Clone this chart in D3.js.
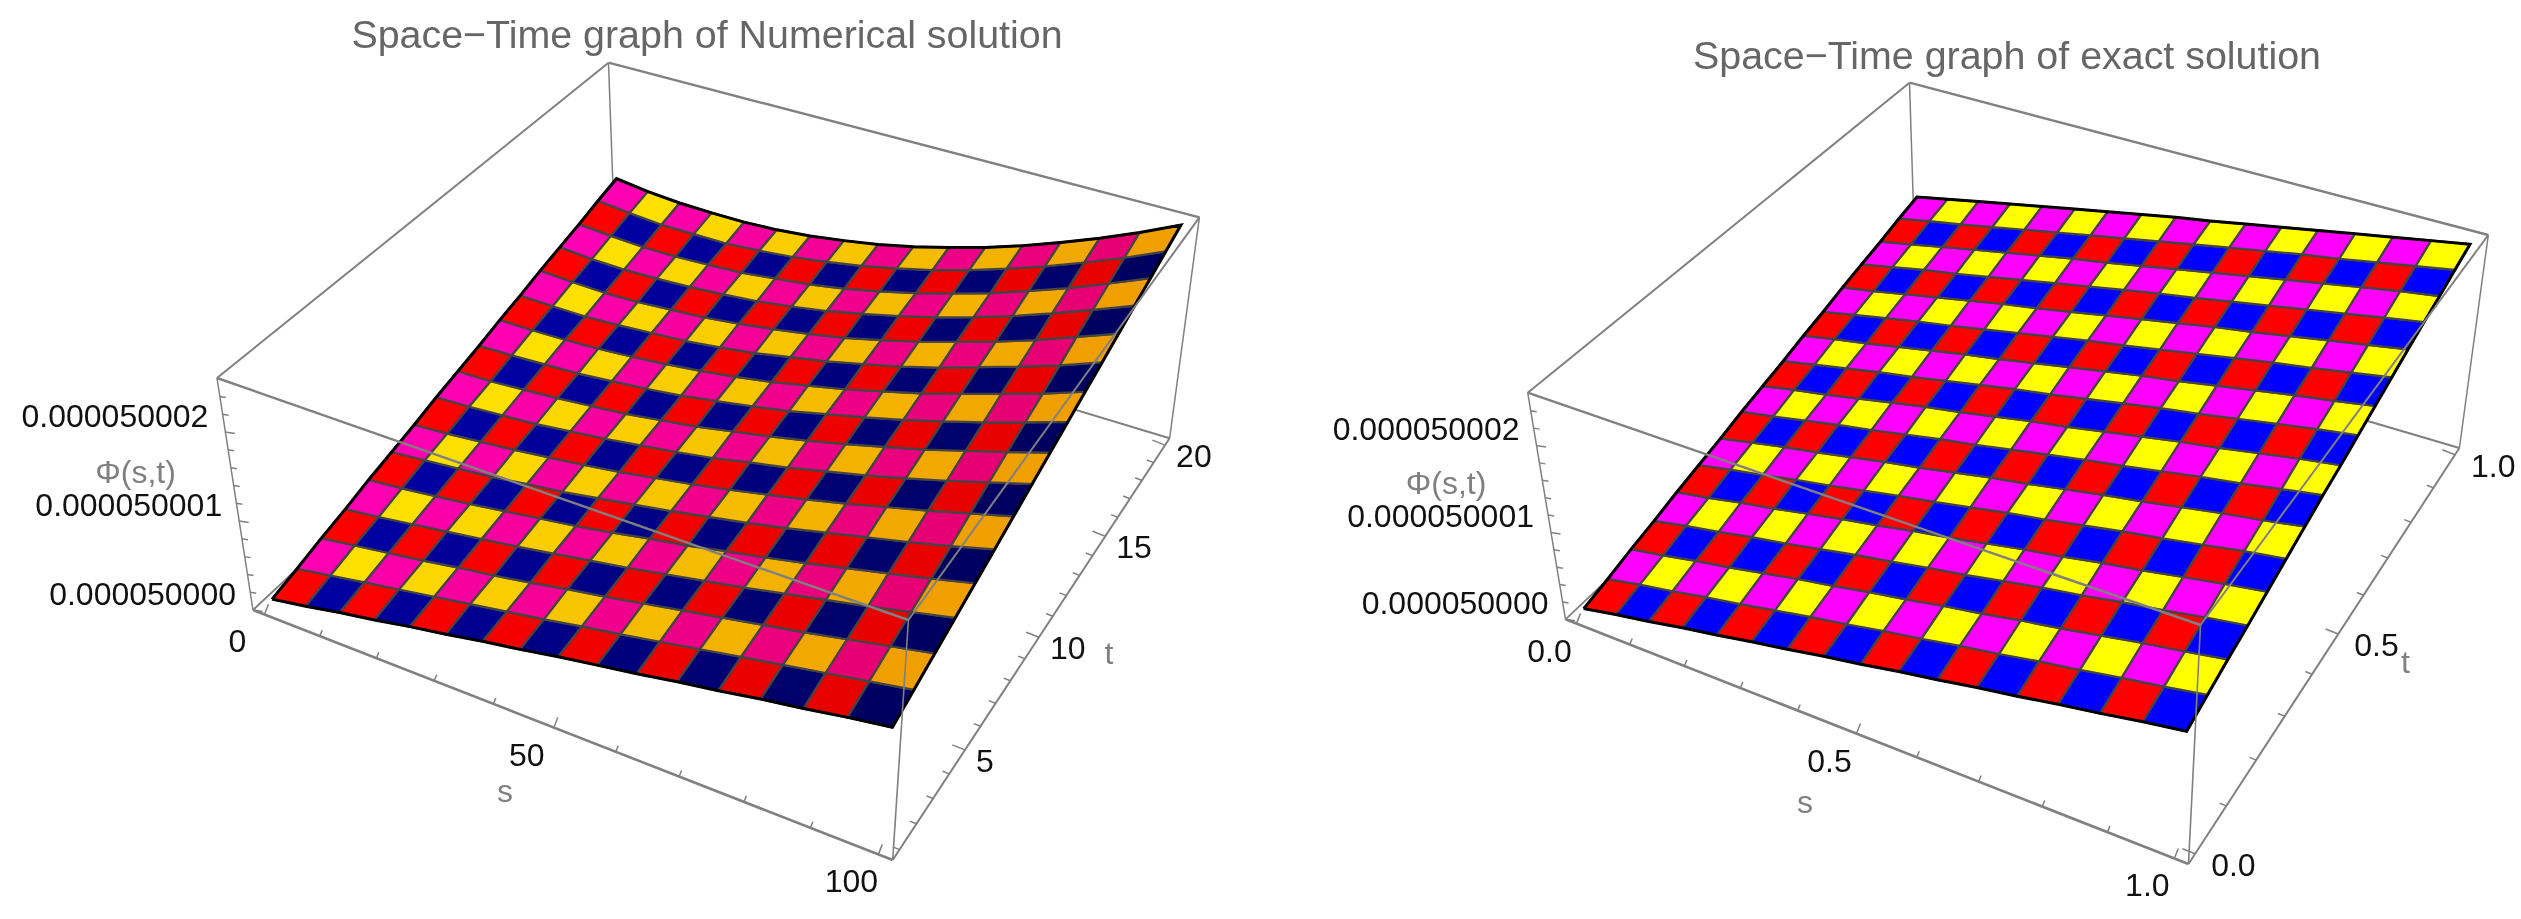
<!DOCTYPE html>
<html>
<head>
<meta charset="utf-8">
<script src="https://cdn.jsdelivr.net/npm/d3@7"></script>
<style>
  html, body { margin: 0; padding: 0; background: #fff; }
  svg { display: block; filter: blur(0.6px); }
  text { font-family: "Liberation Sans", Arial, sans-serif; }
</style>
</head>
<body>
<div id="chart"></div>
<script>
// surface heights, in units of 1e-9 above 0.00005. rows go along t, columns along s
var numericalPhi = [
  [.08,.15,.23,.30,.38,.45,.53,.60,.68,.75,.82,.90,.97,1.05,1.12,1.20,1.27],
  [.15,.22,.29,.36,.43,.50,.57,.64,.72,.79,.87,.95,1.03,1.11,1.19,1.27,1.35],
  [.23,.29,.35,.41,.48,.54,.61,.69,.76,.84,.92,1.00,1.08,1.16,1.25,1.34,1.43],
  [.30,.35,.41,.47,.53,.59,.66,.73,.80,.88,.96,1.04,1.13,1.22,1.31,1.41,1.51],
  [.38,.42,.47,.52,.58,.64,.70,.77,.85,.92,1.01,1.09,1.18,1.28,1.38,1.48,1.59],
  [.45,.49,.53,.57,.63,.68,.75,.82,.89,.97,1.05,1.14,1.24,1.34,1.44,1.55,1.67],
  [.52,.55,.59,.63,.68,.73,.79,.86,.93,1.01,1.10,1.19,1.29,1.40,1.51,1.63,1.75],
  [.60,.62,.65,.68,.73,.78,.84,.90,.97,1.06,1.14,1.24,1.34,1.45,1.57,1.70,1.83],
  [.67,.68,.71,.74,.78,.82,.88,.94,1.02,1.10,1.19,1.29,1.40,1.51,1.64,1.77,1.91],
  [.74,.75,.77,.79,.83,.87,.92,.99,1.06,1.14,1.24,1.34,1.45,1.57,1.70,1.84,1.99],
  [.82,.82,.83,.85,.88,.92,.97,1.03,1.10,1.19,1.28,1.39,1.50,1.63,1.77,1.91,2.07],
  [.89,.88,.88,.90,.93,.96,1.01,1.07,1.15,1.23,1.33,1.43,1.55,1.69,1.83,1.98,2.15],
  [.97,.95,.94,.95,.98,1.01,1.06,1.12,1.19,1.27,1.37,1.48,1.61,1.74,1.89,2.06,2.23],
  [1.04,1.01,1.00,1.01,1.03,1.06,1.10,1.16,1.23,1.32,1.42,1.53,1.66,1.80,1.96,2.13,2.31],
  [1.11,1.08,1.06,1.06,1.08,1.10,1.15,1.20,1.27,1.36,1.46,1.58,1.71,1.86,2.02,2.20,2.39],
  [1.19,1.15,1.12,1.12,1.12,1.15,1.19,1.25,1.32,1.41,1.51,1.63,1.77,1.92,2.09,2.27,2.47],
  [1.26,1.21,1.18,1.17,1.17,1.19,1.23,1.29,1.36,1.45,1.56,1.68,1.82,1.98,2.15,2.34,2.55]
];
var exactPhi = [
  [.08,.16,.23,.31,.38,.46,.53,.61,.68,.76,.83,.91,.98,1.06,1.13,1.21,1.28],
  [.15,.23,.30,.38,.45,.53,.61,.68,.76,.83,.91,.98,1.06,1.13,1.21,1.28,1.36],
  [.23,.30,.38,.45,.53,.61,.68,.76,.83,.91,.98,1.06,1.13,1.21,1.29,1.36,1.44],
  [.30,.38,.45,.53,.60,.68,.76,.83,.91,.98,1.06,1.14,1.21,1.29,1.36,1.44,1.51],
  [.38,.45,.53,.60,.68,.76,.83,.91,.98,1.06,1.14,1.21,1.29,1.36,1.44,1.52,1.59],
  [.45,.53,.60,.68,.75,.83,.91,.98,1.06,1.14,1.21,1.29,1.37,1.44,1.52,1.60,1.67],
  [.52,.60,.68,.75,.83,.91,.98,1.06,1.14,1.21,1.29,1.37,1.44,1.52,1.60,1.67,1.75],
  [.60,.67,.75,.83,.90,.98,1.06,1.13,1.21,1.29,1.37,1.44,1.52,1.60,1.67,1.75,1.83],
  [.67,.75,.82,.90,.98,1.06,1.13,1.21,1.29,1.36,1.44,1.52,1.60,1.67,1.75,1.83,1.90],
  [.74,.82,.90,.98,1.05,1.13,1.21,1.29,1.36,1.44,1.52,1.60,1.67,1.75,1.83,1.91,1.98],
  [.82,.90,.97,1.05,1.13,1.21,1.28,1.36,1.44,1.52,1.60,1.67,1.75,1.83,1.91,1.98,2.06],
  [.89,.97,1.05,1.13,1.20,1.28,1.36,1.44,1.52,1.59,1.67,1.75,1.83,1.91,1.98,2.06,2.14],
  [.97,1.04,1.12,1.20,1.28,1.36,1.43,1.51,1.59,1.67,1.75,1.83,1.90,1.98,2.06,2.14,2.22],
  [1.04,1.12,1.20,1.27,1.35,1.43,1.51,1.59,1.67,1.75,1.82,1.90,1.98,2.06,2.14,2.22,2.30],
  [1.11,1.19,1.27,1.35,1.43,1.51,1.59,1.66,1.74,1.82,1.90,1.98,2.06,2.14,2.22,2.30,2.37],
  [1.19,1.27,1.34,1.42,1.50,1.58,1.66,1.74,1.82,1.90,1.98,2.06,2.14,2.21,2.29,2.37,2.45],
  [1.26,1.34,1.42,1.50,1.58,1.66,1.74,1.82,1.90,1.97,2.05,2.13,2.21,2.29,2.37,2.45,2.53]
];

var numericalSTicks = [0,10,20,30,40,50,60,70,80,90,100];
var numericalSLabels = [0,50,100];
var numericalTTicks = [1,2,3,4,5,6,7,8,9,10,11,12,13,14,15,16,17,18,19,20];
var numericalTLabels = [5,10,15,20];
var exactSTicks = [0,.1,.2,.3,.4,.5,.6,.7,.8,.9,1];
var exactSLabels = [0,.5,1];
var exactTTicks = [0,.1,.2,.3,.4,.5,.6,.7,.8,.9,1];
var exactTLabels = [0,.5,1];
var phiTicks = [0,.2,.4,.6,.8,1,1.2,1.4,1.6,1.8,2,2.2,2.4];
var phiLabels = [0,1,2];

// cell colours: [red, dark, magenta, yellow], low s end and high s end
var numericalColorsLow = ["#ff0000","#0000a8","#ff00b4","#ffe600"];
var numericalColorsHigh = ["#e60000","#00005e","#e4006c","#ee9d00"];
var exactColorsLow = ["#ff0000","#0000ff","#ff00ff","#ffff00"];
var exactColorsHigh = ["#ff0000","#0000ff","#ff00ff","#ffff00"];

var width = 2521, height = 919;

var svg = d3.select("#chart").append("svg")
    .attr("width", width)
    .attr("height", height);

// square -> quad perspective map
function quadMap(p0, p1, p2, p3){
    var dx1 = p1[0]-p2[0], dx2 = p3[0]-p2[0], sx = p0[0]-p1[0]+p2[0]-p3[0];
    var dy1 = p1[1]-p2[1], dy2 = p3[1]-p2[1], sy = p0[1]-p1[1]+p2[1]-p3[1];
    var den = dx1*dy2 - dx2*dy1;
    var g = (sx*dy2 - dx2*sy)/den, h = (dx1*sy - sx*dy1)/den;
    var a = p1[0]-p0[0]+g*p1[0], b = p3[0]-p0[0]+h*p3[0];
    var d = p1[1]-p0[1]+g*p1[1], e = p3[1]-p0[1]+h*p3[1];
    return function(u, v){
        var q = g*u + h*v + 1;
        return [(a*u + b*v + p0[0])/q, (d*u + e*v + p0[1])/q];
    };
}

function drawPanel(o){
    var c = o.corners;
    var bottom = quadMap(c.F, c.G, c.E, c.D);
    var top = quadMap(c.C, c.H, c.B, c.A);

    var sScale = d3.scaleLinear().domain(o.sDomain).range([o.pad, 1-o.pad]);
    var tScale = d3.scaleLinear().domain(o.tDomain).range([o.pad, 1-o.pad]);
    var zScale = d3.scaleLinear().domain([0,2]).range([0,.767]);

    function project(u, v, w){
        var b = bottom(u,v), t = top(u,v);
        return [b[0]+(t[0]-b[0])*w, b[1]+(t[1]-b[1])*w];
    }

    var g = svg.append("g");
    var line = d3.line();

    function boxEdge(a, b, w){
        g.append("path").attr("d", line([a,b]))
            .attr("stroke","#808080").attr("stroke-width",w).attr("fill","none");
    }

    // hidden side of the box goes under the surface
    boxEdge(c.A, c.D, 1.5);
    boxEdge(c.F, c.D, 1.8);
    boxEdge(c.E, c.D, 2);
    boxEdge(c.E, c.B, 1.5);

    var n = o.phi.length - 1;
    var cells = [];
    d3.range(n).forEach(function(j){
        d3.range(n).forEach(function(i){ cells.push({i:i, j:j}); });
    });

    function gridPoint(i, j){
        var s = o.sDomain[0] + (o.sDomain[1]-o.sDomain[0])*i/n;
        var t = o.tDomain[0] + (o.tDomain[1]-o.tDomain[0])*j/n;
        return project(sScale(s), tScale(t), zScale(o.phi[j][i]));
    }

    g.selectAll(".cell").data(cells).enter().append("path")
        .attr("class","cell")
        .attr("d", function(d){
            return line([
                gridPoint(d.i,d.j), gridPoint(d.i+1,d.j),
                gridPoint(d.i+1,d.j+1), gridPoint(d.i,d.j+1),
                gridPoint(d.i,d.j)
            ]);
        })
        .attr("fill", function(d){
            var k = (d.j%2)*2 + (d.i%2);
            return d3.interpolateRgb(o.low[k], o.high[k])((d.i+.5)/n);
        })
        .attr("stroke","#444")
        .attr("stroke-width",2.2)
        .attr("stroke-linejoin","round");

    // dark outline of the surface
    var rim = [];
    d3.range(n+1).forEach(function(i){ rim.push(gridPoint(i,0)); });
    d3.range(1,n+1).forEach(function(j){ rim.push(gridPoint(n,j)); });
    d3.range(n-1,-1,-1).forEach(function(i){ rim.push(gridPoint(i,n)); });
    d3.range(n-1,-1,-1).forEach(function(j){ rim.push(gridPoint(0,j)); });
    g.append("path").attr("d", line(rim))
        .attr("fill","none").attr("stroke","#000").attr("stroke-width",3);

    // front of the box is drawn over the surface
    boxEdge(c.C, c.A, 2);
    boxEdge(c.A, c.B, 2.4);
    boxEdge(c.F, c.C, 1.5);
    boxEdge(c.F, c.G, 2.6);
    boxEdge(c.G, c.E, 2);
    boxEdge(c.G, c.H, 1.6);
    boxEdge(c.C, c.H, 2.4);
    boxEdge(c.H, c.B, 2);

    function tick(p, dx, dy){
        g.append("path").attr("d", line([p,[p[0]+dx,p[1]+dy]]))
            .attr("stroke","#808080").attr("stroke-width",1.5);
    }
    function label(txt, x, y, anchor, col){
        g.append("text").attr("x",x).attr("y",y)
            .attr("text-anchor",anchor).attr("dominant-baseline","central")
            .attr("font-size",32).attr("fill",col).text(txt);
    }

    o.sTicks.forEach(function(v){
        var major = o.sLabels.indexOf(v) >= 0;
        tick(project(sScale(v),0,0), major?4:2.5, major?-10:-6);
    });
    o.tTicks.forEach(function(v){
        var major = o.tLabels.indexOf(v) >= 0;
        tick(project(1,tScale(v),0), major?-12.7:-6.7, major?-5:-2.7);
    });
    phiTicks.forEach(function(v){
        var major = phiLabels.indexOf(v) >= 0;
        tick(project(0,0,zScale(v)), major?9.5:6, major?1.5:1);
    });

    o.sLabels.forEach(function(v){
        var p = project(sScale(v),0,0);
        label(o.fmt(v), p[0]-27, p[1]+27, "middle", "#111");
    });
    o.tLabels.forEach(function(v){
        var p = project(1,tScale(v),0);
        label(o.fmt(v), p[0]+o.tLabelDx, p[1]+11, "start", "#111");
    });
    phiLabels.forEach(function(v){
        var p = project(0,0,zScale(v));
        label((0.00005 + v*1e-9).toFixed(9), p[0]-17, p[1]-16, "end", "#111");
    });

    label(o.phiName, o.phiPos[0], o.phiPos[1], "middle", "#808080");
    label("s", o.sPos[0], o.sPos[1], "middle", "#808080");
    label("t", o.tPos[0], o.tPos[1], "middle", "#808080");

    g.append("text").attr("x",o.titlePos[0]).attr("y",o.titlePos[1])
        .attr("text-anchor","middle").attr("dominant-baseline","central")
        .attr("font-size",39.4).attr("fill","#666").text(o.title);
}

drawPanel({
    title: "Space\u2212Time graph of Numerical solution",
    titlePos: [707,34],
    phi: numericalPhi,
    phiName: "\u03a6(s,t)",
    phiPos: [135.5,472], sPos: [505,791], tPos: [1109,653],
    sDomain: [0,100], tDomain: [1,20], pad: .02, tLabelDx: 11,
    sTicks: numericalSTicks, sLabels: numericalSLabels,
    tTicks: numericalTTicks, tLabels: numericalTLabels,
    fmt: d3.format("d"),
    low: numericalColorsLow, high: numericalColorsHigh,
    corners: {A:[608.5,62.7], B:[1199.4,217.3], C:[217,378], H:[908.4,620],
              D:[616,271], E:[1169.6,438.3], F:[253,610], G:[892.7,860]}
});

drawPanel({
    title: "Space\u2212Time graph of exact solution",
    titlePos: [2007,55],
    phi: exactPhi,
    phiName: "\u03a6(s,t)",
    phiPos: [1446,483], sPos: [1805,802], tPos: [2405.5,662],
    sDomain: [0,1], tDomain: [0,1], pad: .02, tLabelDx: 16,
    sTicks: exactSTicks, sLabels: exactSLabels,
    tTicks: exactTTicks, tLabels: exactTLabels,
    fmt: d3.format(".1f"),
    low: exactColorsLow, high: exactColorsHigh,
    corners: {A:[1909.5,82.7], B:[2488.3,235], C:[1527.7,392.7], H:[2200.5,625],
              D:[1916,288], E:[2459.4,448], F:[1565.5,619.3], G:[2188.5,864]}
});
</script>
</body>
</html>
